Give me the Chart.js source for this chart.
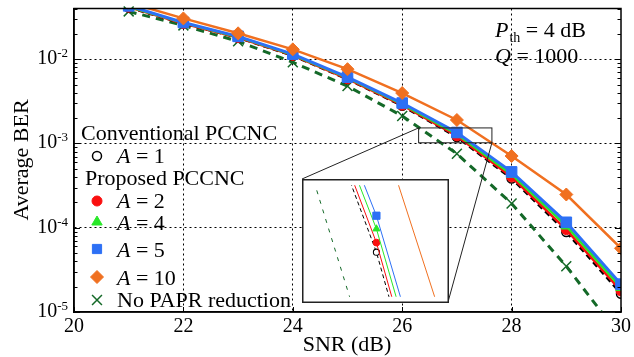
<!DOCTYPE html>
<html>
<head>
<meta charset="utf-8">
<script src="https://cdn.jsdelivr.net/npm/chart.js@4.4.0/dist/chart.umd.min.js"></script>
<style>
	body { margin: 0; background: #fff; }
	#wrap { position: relative; width: 634px; height: 357px; }
	#inset { position: absolute; left: 302px; top: 179px; }
</style>
</head>
<body>
<div id="wrap">
	<canvas id="myChart" width="634" height="357"></canvas>
	<canvas id="inset" width="147" height="124"></canvas>
</div>
<script>
// SNR (dB) points
const snr = [21, 22, 23, 24, 25, 26, 27, 28, 29, 30]

// average BER per curve
const berA1 = [0.041, 0.0265, 0.0180, 0.0110, 0.0058, 0.00280, 0.00119, 0.000383, 0.000089, 0.0000165]
const berA2 = [0.0415, 0.0266, 0.0181, 0.0111, 0.00585, 0.00285, 0.00123, 0.000400, 0.000095, 0.0000178]
const berA4 = [0.042, 0.0270, 0.0184, 0.0113, 0.0060, 0.00293, 0.00129, 0.000430, 0.000105, 0.0000195]
const berA5 = [0.043, 0.0273, 0.0187, 0.0115, 0.00613, 0.00302, 0.00135, 0.000460, 0.000116, 0.0000214]
const berA10 = [0.047, 0.0305, 0.0203, 0.0131, 0.00762, 0.00397, 0.00190, 0.000710, 0.000248, 0.000057]
const berNoPapr = [0.0369, 0.0252, 0.0163, 0.0092, 0.0048, 0.00212, 0.000755, 0.000194, 0.0000349, 0.0000050]

const seriesLabels = ["A = 1", "A = 2", "A = 4", "A = 5", "A = 10", "No PAPR reduction"]
const legendHeaders = ["Conventional PCCNC", "Proposed PCCNC"]

const xTicks = [20, 22, 24, 26, 28, 30]
const yTicks = [1e-5, 1e-4, 1e-3, 1e-2]

// zoomed window shown in the inset
const zoomRect = { x0: 26.3, x1: 27.64, y0: 1.02e-3, y1: 1.53e-3 }
const insetRange = { x0: 26.26, x1: 27.72, y0: 1.02e-3, y1: 1.5e-3 }

const FONT = "Liberation Serif"
const ORANGE = "rgb(240, 112, 32)"
const BLUE = "rgb(45, 112, 245)"
const GREEN = "rgb(40, 232, 40)"
const RED = "rgb(250, 15, 15)"
const DKGREEN = "rgb(20, 105, 40)"

Chart.defaults.font.family = FONT

function pts(arr) {
	return snr.map((s, i) => ({ x: s, y: arr[i] }))
}

function makeDatasets(inset) {
	const k = inset ? 0.68 : 1
	const lw = (w) => inset ? 1 : w
	return [
		{ label: seriesLabels[4], data: pts(berA10), borderColor: ORANGE, backgroundColor: ORANGE,
			borderWidth: lw(2.5), pointStyle: "rectRot", pointRadius: 6.5 * k, pointBorderWidth: 1, order: 0 },
		{ label: seriesLabels[3], data: pts(berA5), borderColor: BLUE, backgroundColor: BLUE,
			borderWidth: lw(3), pointStyle: "rect", pointRadius: 7.5 * k, pointBorderWidth: 1, order: 1 },
		{ label: seriesLabels[2], data: pts(berA4), borderColor: GREEN, backgroundColor: GREEN,
			borderWidth: lw(2.5), pointStyle: "triangle", pointRadius: 6 * k, pointBorderWidth: 1, order: 2 },
		{ label: seriesLabels[1], data: pts(berA2), borderColor: RED, backgroundColor: RED,
			borderWidth: lw(2.5), pointStyle: "circle", pointRadius: 5 * k, pointBorderWidth: 1, order: 3 },
		{ label: seriesLabels[0], data: pts(berA1), borderColor: "#000", backgroundColor: "#fff",
			pointBorderColor: "#000", borderWidth: lw(2.5), borderDash: inset ? [4, 3] : [6, 4],
			pointStyle: "circle", pointRadius: 4.5 * k, pointBorderWidth: 1.5 * k, order: 4 },
		{ label: seriesLabels[5], data: pts(berNoPapr), borderColor: DKGREEN, backgroundColor: DKGREEN,
			borderWidth: lw(3), borderDash: inset ? [4, 6] : [8, 6], pointStyle: "crossRot",
			pointRadius: 7 * k, pointBorderWidth: 1.5, order: 5,
			clip: inset ? 0 : { left: 2, top: 7, right: 2, bottom: 0 } }
	]
}

function txt(ctx, s, x, y, size, style, align) {
	ctx.font = `${style || ""} ${size}px "${FONT}"`
	ctx.textAlign = align || "left"
	ctx.fillText(s, x, y)
	return ctx.measureText(s).width
}

const decorations = {
	id: "decorations",
	afterDraw(chart) {
		const { ctx, chartArea: a } = chart
		const xa = chart.scales.x
		const ya = chart.scales.y
		ctx.save()
		ctx.fillStyle = "#000"
		ctx.strokeStyle = "#000"
		ctx.textBaseline = "alphabetic"

		// minor / major ticks, inward
		ctx.lineWidth = 1
		ctx.beginPath()
		for (let d = -5; d <= -2; d++) {
			for (let m = 1; m <= 9; m++) {
				const v = m * Math.pow(10, d)
				if (v > ya.max * 1.0001 || v < ya.min * 0.9999) continue
				const y = Math.round(ya.getPixelForValue(v)) + 0.5
				const len = m === 1 ? 6 : 3.5
				ctx.moveTo(a.left, y); ctx.lineTo(a.left + len, y)
				ctx.moveTo(a.right, y); ctx.lineTo(a.right - len, y)
			}
		}
		xTicks.forEach(v => {
			const x = Math.round(xa.getPixelForValue(v)) + 0.5
			ctx.moveTo(x, a.bottom); ctx.lineTo(x, a.bottom - 5)
		})
		ctx.stroke()

		// frame
		ctx.lineWidth = 1.5
		ctx.strokeRect(a.left, a.top, a.right - a.left, a.bottom - a.top)

		// y tick labels 10^n
		yTicks.forEach(v => {
			const e = Math.round(Math.log10(v))
			const y = ya.getPixelForValue(v)
			const w = txt(ctx, String(e), 68, y - 2, 13, "", "right")
			txt(ctx, "10", 68 - w, y + 5, 20, "", "right")
		})

		// axis titles
		txt(ctx, "SNR (dB)", 347, 351, 22, "", "center")
		ctx.save()
		ctx.translate(28, 160)
		ctx.rotate(-Math.PI / 2)
		txt(ctx, "Average BER", 0, 0, 22, "", "center")
		ctx.restore()

		// annotations
		let x = 495
		x += txt(ctx, "P", x, 37, 22, "italic")
		x += txt(ctx, "th", x + 1, 42, 14) + 1
		txt(ctx, " = 4 dB", x, 37, 22)
		x = 495
		x += txt(ctx, "Q", x, 63, 22, "italic")
		txt(ctx, " = 1000", x, 63, 22)

		// legend
		txt(ctx, legendHeaders[0], 81, 140, 22)
		txt(ctx, legendHeaders[1], 85, 185, 22)
		const rows = [
			{ i: 4, my: 156, ty: 163 },
			{ i: 3, my: 201, ty: 208 },
			{ i: 2, my: 222, ty: 230 },
			{ i: 1, my: 249, ty: 257 },
			{ i: 0, my: 277, ty: 285 },
			{ i: 5, my: 300, ty: 307 }
		]
		rows.forEach(r => {
			const ds = chart.data.datasets[r.i]
			ctx.save()
			ctx.setLineDash([])
			ctx.fillStyle = ds.backgroundColor
			ctx.strokeStyle = ds.pointBorderColor || ds.borderColor
			ctx.lineWidth = ds.pointBorderWidth
			Chart.helpers.drawPoint(ctx, {
				pointStyle: ds.pointStyle,
				radius: ds.pointStyle === "rect" ? 6.5 : ds.pointRadius,
				rotation: 0,
				borderWidth: ds.pointBorderWidth
			}, 97, r.my)
			ctx.restore()
			const lab = ds.label
			if (lab.startsWith("A")) {
				const w = txt(ctx, "A", 117, r.ty, 22, "italic")
				txt(ctx, lab.slice(1), 117 + w, r.ty, 22)
			} else {
				txt(ctx, lab, 117, r.ty, 22)
			}
		})

		// zoom window and connectors to the inset
		const rx0 = xa.getPixelForValue(zoomRect.x0)
		const rx1 = xa.getPixelForValue(zoomRect.x1)
		const ry0 = ya.getPixelForValue(zoomRect.y1)
		const ry1 = ya.getPixelForValue(zoomRect.y0)
		ctx.lineWidth = 1
		ctx.strokeStyle = "#222"
		ctx.strokeRect(rx0, ry0, rx1 - rx0, ry1 - ry0)
		ctx.beginPath()
		ctx.moveTo(rx0, ry0); ctx.lineTo(302, 179)
		ctx.moveTo(rx1, ry1); ctx.lineTo(448, 302)
		ctx.stroke()
		ctx.restore()
	}
}

const gridColor = (skip) => (c) => (c.tick && skip.includes(c.tick.value)) ? "rgba(0,0,0,0)" : "#000"

new Chart("myChart", {
	type: "line",
	data: { datasets: makeDatasets(false) },
	options: {
		responsive: false,
		animation: false,
		events: [],
		layout: { padding: { top: 7, right: 13, left: 0, bottom: 0 } },
		plugins: { legend: { display: false }, tooltip: { enabled: false } },
		elements: { line: { tension: 0 } },
		scales: {
			x: {
				type: "linear", min: 20, max: 30,
				afterBuildTicks: s => { s.ticks = xTicks.map(v => ({ value: v })) },
				afterFit: s => { s.height = 45 },
				ticks: { font: { family: FONT, size: 20 }, color: "#000", padding: 3, maxRotation: 0, autoSkip: false },
				grid: { color: gridColor([20, 30]), lineWidth: 1, drawTicks: false },
				border: { color: "#000", width: 1.5, dash: [2, 3] }
			},
			y: {
				type: "logarithmic", min: 1e-5, max: 0.04,
				afterBuildTicks: s => { s.ticks = yTicks.map(v => ({ value: v })) },
				afterFit: s => { s.width = 74 },
				ticks: { display: false },
				grid: { color: gridColor([1e-5]), lineWidth: 1, drawTicks: false },
				border: { color: "#000", width: 1.5, dash: [2, 3] }
			}
		}
	},
	plugins: [decorations]
})

const insetFrame = {
	id: "insetFrame",
	beforeDraw(chart) {
		const ctx = chart.ctx
		ctx.save()
		ctx.fillStyle = "#fff"
		ctx.fillRect(0, 0, chart.width, chart.height)
		ctx.restore()
	},
	afterDraw(chart) {
		const ctx = chart.ctx
		ctx.save()
		ctx.strokeStyle = "#222"
		ctx.lineWidth = 1.5
		ctx.strokeRect(0.75, 0.75, chart.width - 1.5, chart.height - 1.5)
		ctx.restore()
	}
}

new Chart("inset", {
	type: "line",
	data: { datasets: makeDatasets(true) },
	options: {
		responsive: false,
		animation: false,
		events: [],
		layout: { padding: 0 },
		plugins: { legend: { display: false }, tooltip: { enabled: false } },
		elements: { line: { tension: 0 } },
		scales: {
			x: { type: "linear", display: false, min: insetRange.x0, max: insetRange.x1 },
			y: { type: "logarithmic", display: false, min: insetRange.y0, max: insetRange.y1 }
		}
	},
	plugins: [insetFrame]
})
</script>
</body>
</html>
